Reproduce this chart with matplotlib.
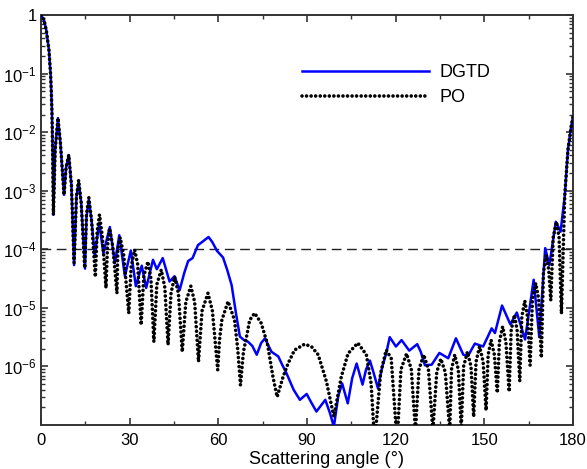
import numpy as np
import matplotlib
matplotlib.use('Agg')
import matplotlib.pyplot as plt
from matplotlib.ticker import FixedLocator, FuncFormatter, LogLocator, NullFormatter

plt.rcParams['font.family'] = ['Liberation Sans', 'DejaVu Sans']
plt.rcParams['mathtext.fontset'] = 'custom'
plt.rcParams['mathtext.rm'] = 'Liberation Sans'
plt.rcParams['mathtext.it'] = 'Liberation Sans'

# PO curve: angle (deg) and log10 of the normalised value
po_ang = [0, 1.0, 1.8, 2.7, 3.3, 3.7, 4.0, 4.2, 4.8, 5.75, 6.6, 7.8, 8.5, 9.4, 10.3,
          11.2, 12.0, 12.75, 13.6, 14.8, 15.4, 16.2, 17.1, 18.4, 19.0, 19.8, 20.8,
          22.0, 22.5, 23.2, 24.3, 25.7, 26.0, 26.8, 28.0, 29.7, 30.5, 31.7, 32.7,
          33.9, 34.8, 36.2, 37.2, 38.2, 39.2, 40.7, 41.9, 43.0, 44.0, 45.2, 46.5,
          47.8, 49.0, 50.7, 52.0, 53.3, 54.5, 56.5, 58.0, 59.8, 60.4, 61.2, 63.3,
          65.5, 66.6, 67.5, 68.5, 69.8, 70.6, 72.3, 74.5, 76.6, 78.5, 79.9, 81.9,
          83.6, 85.8, 89.2, 91.5, 93.8, 96.6, 99.1, 101.6, 103.9, 107.2, 110.1,
          111.7, 112.9, 114.9, 116.8, 118.5, 120.5, 121.8, 123.7, 125.3, 126.7,
          127.9, 129.5, 131.1, 132.6, 133.9, 135.3, 136.8, 138.3, 138.9, 140.0,
          141.2, 142.2, 143.0, 144.3, 145.5, 146.4, 147.2, 148.4, 149.6, 150.6,
          151.3, 152.3, 153.4, 154.4, 155.1, 156.2, 157.3, 158.4, 159.1, 160.2,
          161.1, 162.0, 162.7, 163.7, 164.6, 165.5, 166.3, 167.4, 168.4, 169.3,
          170.0, 171.0, 171.8, 172.5, 173.3, 174.4, 175.3, 176.1, 177.2, 178.3,
          179.4, 180]
po_log = [0, -0.08, -0.26, -0.6, -1.05, -1.62, -2.5, -3.41, -2.3, -1.76, -2.2, -3.07,
          -2.6, -2.39, -2.9, -4.23, -3.1, -2.82, -3.2, -4.32, -3.4, -3.12, -3.5,
          -4.47, -3.7, -3.41, -3.8, -4.66, -3.95, -3.64, -3.95, -4.75, -4.0, -3.8,
          -4.1, -5.09, -4.3, -4.01, -4.25, -5.29, -4.45, -4.21, -4.5, -5.58, -4.6,
          -4.35, -4.65, -5.63, -4.75, -4.47, -4.75, -5.75, -4.9, -4.63, -4.9, -5.92,
          -5.05, -4.75, -5.05, -6.06, -5.55, -5.21, -4.89, -5.21, -5.72, -6.32,
          -5.75, -5.43, -5.21, -5.09, -5.26, -5.61, -6.18, -6.52, -6.18, -5.95,
          -5.72, -5.62, -5.66, -5.8, -6.26, -6.86, -6.18, -5.78, -5.6, -5.8, -6.29,
          -7.3, -6.12, -5.72, -5.86, -7.3, -6.05, -5.78, -6.05, -7.1, -6.05, -5.8,
          -6.05, -7.1, -6.1, -5.87, -6.1, -7.1, -6.05, -5.8, -6.05, -7.05, -6.0,
          -5.75, -6.0, -6.86, -5.92, -5.66, -5.92, -6.75, -5.8, -5.55, -5.8, -6.45,
          -5.58, -5.32, -5.58, -6.43, -5.38, -5.12, -5.38, -6.25, -5.15, -4.88,
          -5.15, -5.98, -4.85, -4.58, -4.85, -5.85, -4.4, -4.1, -4.35, -4.87, -3.8,
          -3.53, -3.8, -5.1, -3.1, -2.3, -1.9, -1.74]

# DGTD curve
dg_ang = [0, 1.0, 1.8, 2.7, 3.3, 3.7, 4.0, 4.2, 4.8, 5.75, 6.6, 7.8, 8.5, 9.4, 10.3,
          11.2, 12.0, 12.75, 13.6, 14.9, 15.4, 16.2, 17.1, 18.2, 19.7, 21.1, 23.3,
          25.0, 26.5, 28.4, 30.4, 32.1, 34.1, 35.6, 37.9, 39.2, 41.2, 43.5, 45.2,
          46.9, 48.5, 49.8, 51.3, 53.1, 54.4, 56.7, 58.0, 59.6, 61.6, 63.0, 64.5,
          66.0, 67.3, 68.7, 70.1, 71.5, 73.0, 74.5, 75.8, 77.0, 78.0, 80.3, 81.7,
          83.1, 85.5, 87.6, 89.9, 91.5, 93.2, 96.2, 97.8, 99.1, 100.6, 101.9, 103.8,
          105.3, 106.8, 108.8, 110.0, 111.3, 112.5, 114.0, 115.5, 116.8, 118.0,
          120.1, 122.0, 124.6, 127.3, 128.5, 129.9, 132.2, 134.8, 137.8, 140.4,
          142.9, 144.5, 146.8, 149.6, 152.5, 153.6, 156.0, 158.8, 161.0, 163.8,
          166.7, 168.6, 170.6, 172.0, 174.2, 175.8, 177.2, 178.3, 179.4, 180]
dg_log = [0, -0.08, -0.26, -0.6, -1.05, -1.62, -2.5, -3.41, -2.3, -1.76, -2.2, -3.07,
          -2.6, -2.39, -2.9, -4.27, -3.1, -2.85, -3.2, -4.33, -3.45, -3.15, -3.5,
          -4.1, -3.55, -4.07, -3.62, -4.24, -3.76, -4.46, -4.02, -4.63, -4.28,
          -4.66, -4.18, -4.34, -4.15, -4.55, -4.46, -4.7, -4.4, -4.2, -4.15, -3.93,
          -3.88, -3.79, -3.88, -4.03, -4.14, -4.35, -4.61, -5.1, -5.49, -5.55,
          -5.58, -5.65, -5.8, -5.6, -5.52, -5.65, -5.75, -5.83, -5.98, -6.12, -6.4,
          -6.57, -6.47, -6.62, -6.77, -6.57, -6.8, -7.03, -6.5, -6.29, -6.63, -6.2,
          -5.95, -6.31, -6.05, -5.9, -6.1, -6.37, -6.0, -5.78, -5.5, -5.66, -5.55,
          -5.73, -5.62, -5.75, -5.98, -5.97, -5.77, -5.86, -5.52, -5.8, -5.82,
          -5.61, -5.66, -5.35, -5.43, -4.96, -5.28, -5.08, -5.54, -4.52, -5.5,
          -3.98, -4.27, -3.53, -3.7, -3.1, -2.3, -1.9, -1.74]

po = 10.0 ** np.array(po_log)
dgtd = 10.0 ** np.array(dg_log)

fig = plt.figure(figsize=(5.87, 4.69), dpi=100)
ax = fig.add_axes([0.0698, 0.0938, 0.9063, 0.8742])

ax.plot(dg_ang, dgtd, color='#0000ff', lw=1.8, label='DGTD', zorder=3)
ax.plot(po_ang, po, color='black', lw=2.6, linestyle=(0, (0.01, 1.25)),
        dash_capstyle='round', label='PO', zorder=4)
ax.axhline(1e-4, color='#222222', lw=1.0, linestyle=(0, (7, 4)), zorder=2)

ax.set_yscale('log')
ax.set_xlim(0, 180)
ax.set_ylim(1e-7, 1)
ax.xaxis.set_major_locator(FixedLocator([0, 30, 60, 90, 120, 150, 180]))
ax.xaxis.set_minor_locator(FixedLocator([15, 45, 75, 105, 135, 165]))
ax.yaxis.set_major_locator(FixedLocator([1e-6, 1e-5, 1e-4, 1e-3, 1e-2, 1e-1, 1]))
ax.yaxis.set_minor_locator(LogLocator(base=10, subs=np.arange(2, 10), numticks=20))
ax.yaxis.set_minor_formatter(NullFormatter())


def ylab(v, pos):
    e = int(round(np.log10(v)))
    if e == 0:
        return '1'
    return r'$10^{%d}$' % e


ax.yaxis.set_major_formatter(FuncFormatter(ylab))
ax.tick_params(which='both', direction='in', top=True, right=True, colors='#333333',
               labelcolor='black', labelsize=12)
ax.tick_params(which='major', length=5, width=1.2)
ax.tick_params(which='minor', length=3, width=1.0)
ax.tick_params(axis='x', pad=6)
ax.tick_params(axis='y', pad=3)
for s in ax.spines.values():
    s.set_linewidth(1.4)
    s.set_color('#333333')

ax.legend(loc='upper right', bbox_to_anchor=(0.875, 0.92), frameon=False, fontsize=13,
          handlelength=7.0, handletextpad=0.6, labelspacing=0.45)

fig.text(0.556, 0.003, 'Scattering angle (\u00b0)', ha='center', va='bottom', fontsize=13)

fig.savefig('out.png', dpi=100)
